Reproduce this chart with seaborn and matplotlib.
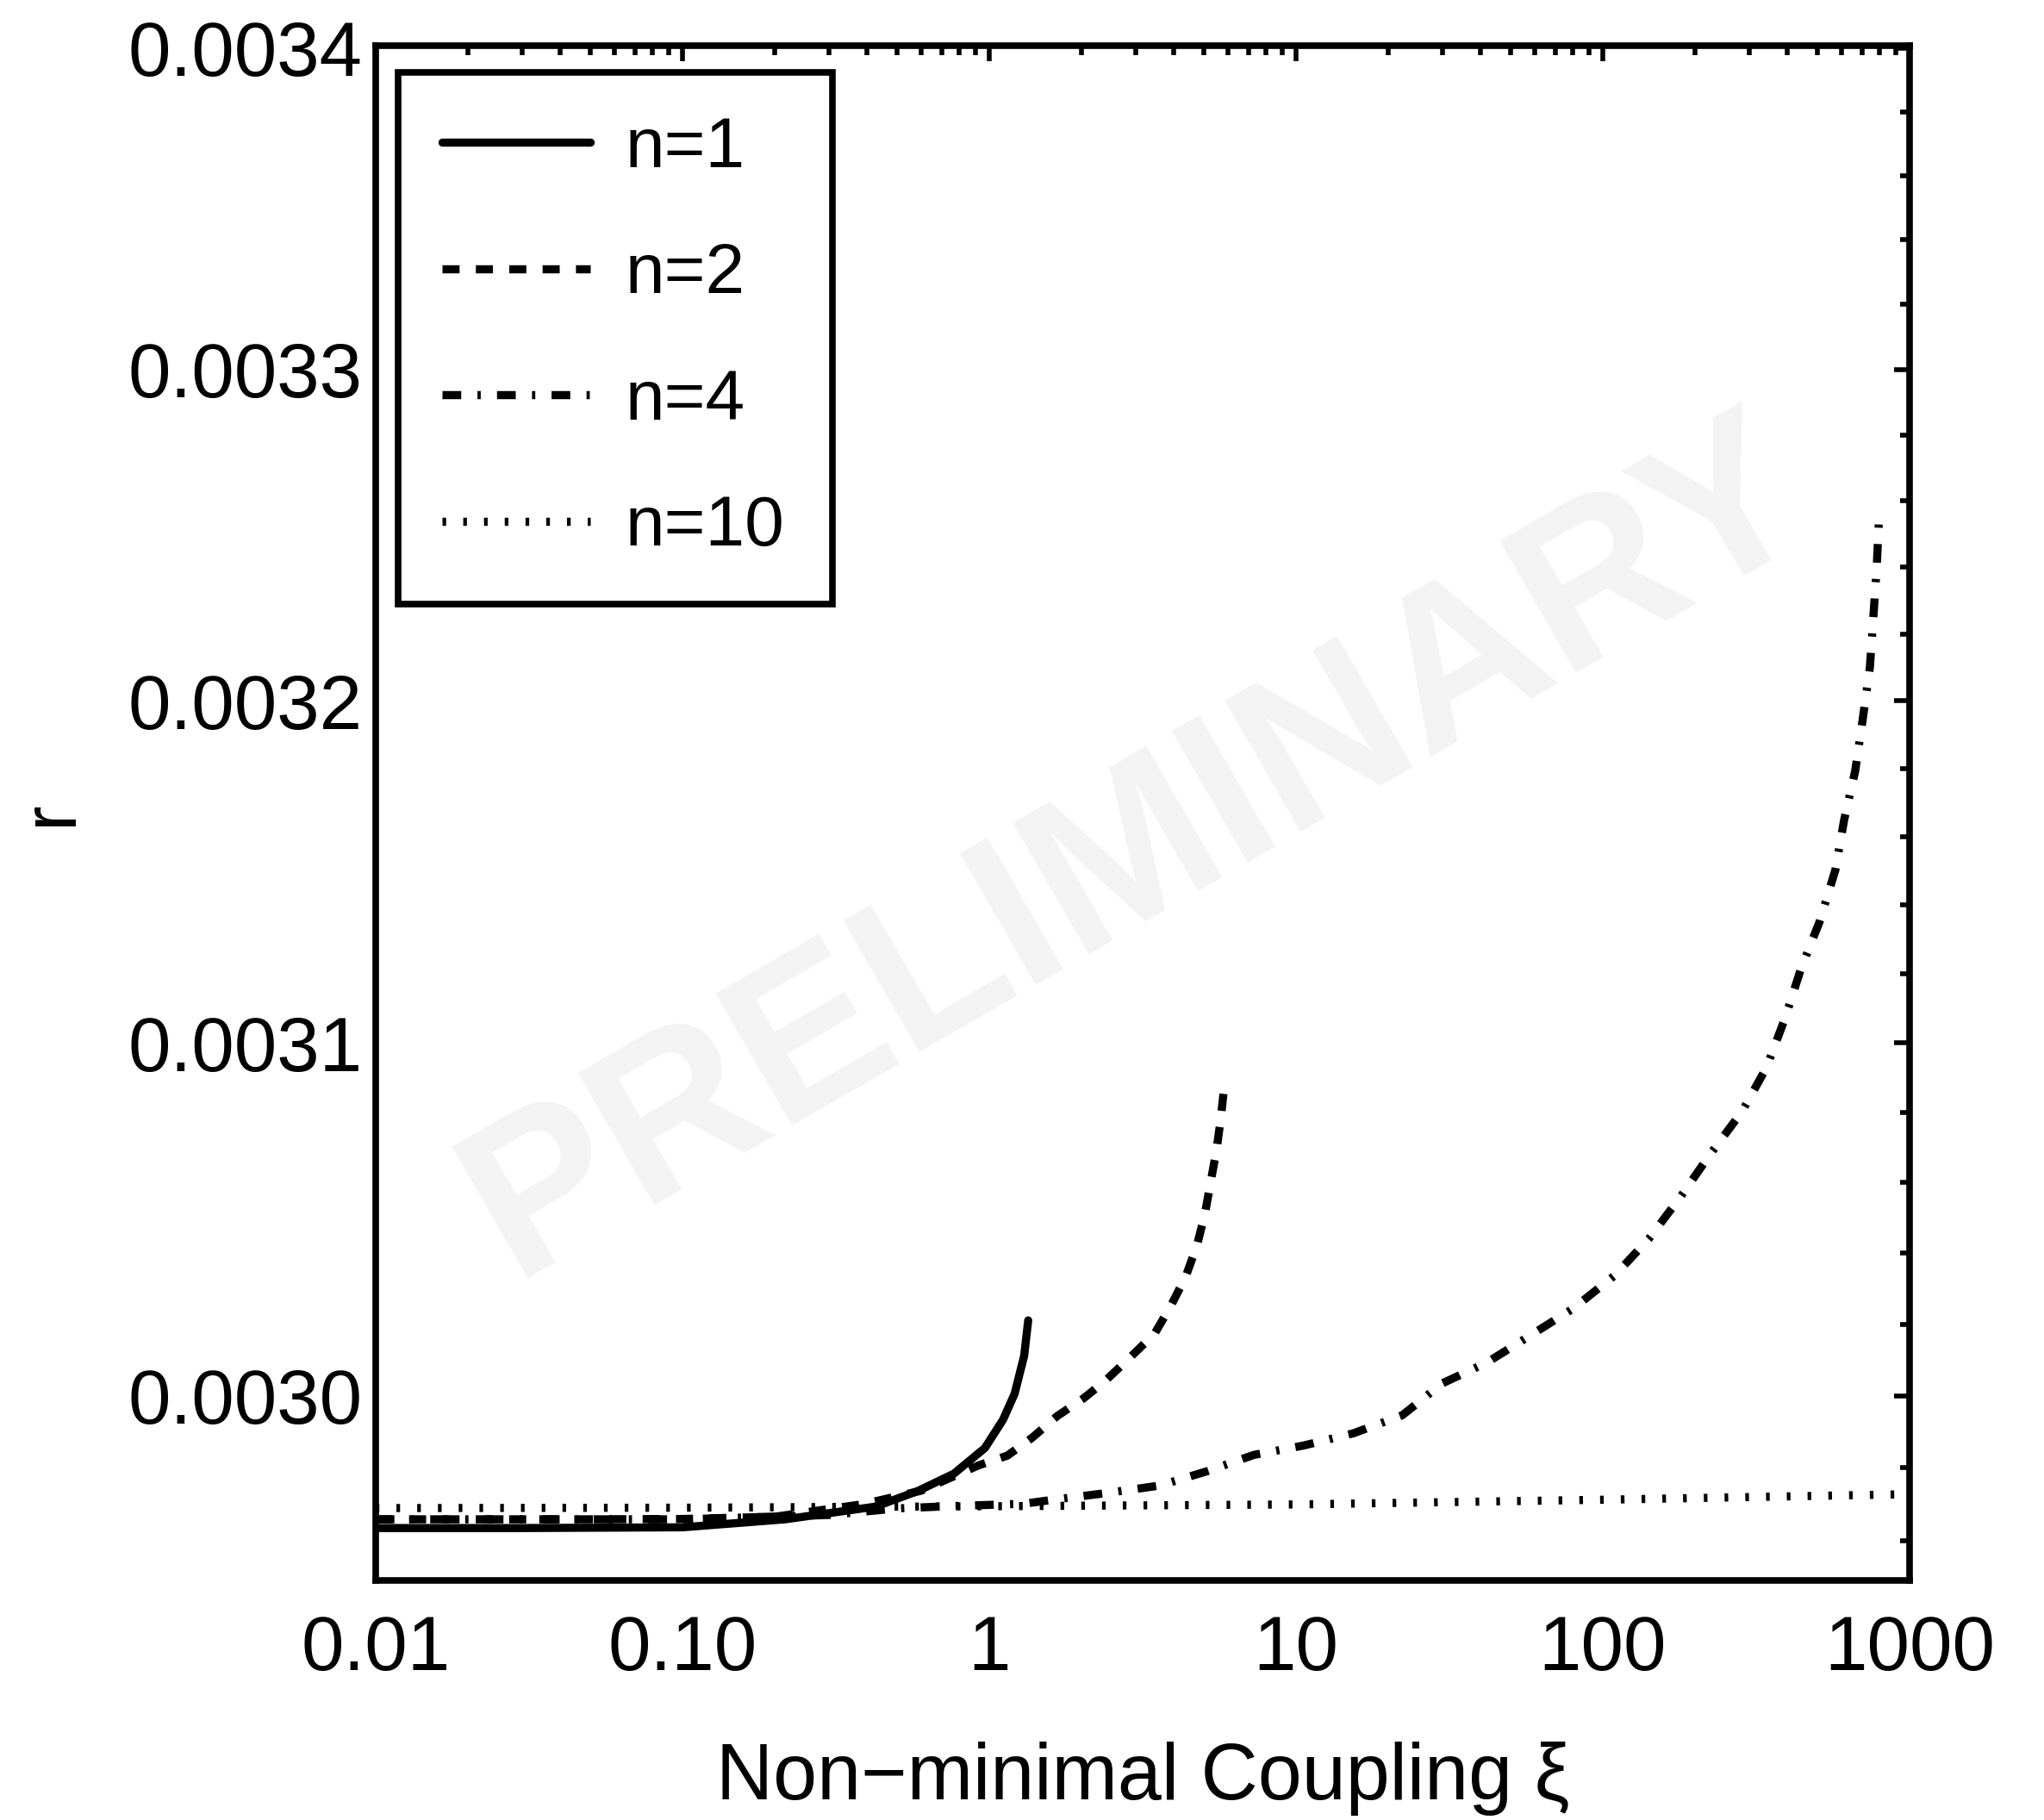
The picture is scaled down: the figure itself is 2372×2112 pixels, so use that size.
import matplotlib
matplotlib.use("Agg")
import numpy as np
import pandas as pd
import seaborn as sns
import matplotlib.pyplot as plt
from matplotlib.ticker import FixedLocator, FixedFormatter, NullFormatter, LogLocator

# --- Datos ---
n1_xi = [0.01, 0.03, 0.1, 0.216, 0.426, 0.585, 0.767, 0.968, 1.11, 1.21, 1.30, 1.34]
n1_r = [0.0029634, 0.0029634, 0.0029636, 0.0029658, 0.0029693, 0.0029736,
        0.0029784, 0.0029855, 0.0029934, 0.0030006, 0.0030112, 0.0030211]

n2_xi = [0.01, 0.05, 0.1, 0.2, 0.389, 0.6, 0.923, 1.146, 1.382, 1.667, 2.037,
         2.39, 2.908, 3.462, 3.915, 4.37, 4.75, 5.04, 5.27, 5.51, 5.69, 5.85]
n2_r = [0.0029658, 0.0029658, 0.0029659, 0.0029665, 0.0029700, 0.0029737,
        0.0029807, 0.0029834, 0.0029884, 0.0029944, 0.0029994, 0.0030042,
        0.0030111, 0.0030174, 0.0030253, 0.0030334, 0.0030421, 0.0030508,
        0.0030601, 0.0030694, 0.0030784, 0.0030884]

n4_xi = [0.01, 0.1, 0.3, 0.5, 0.733, 1.30, 1.65, 2.39, 3.59, 5.14, 7.29, 10.6,
         15.4, 22.2, 30.0, 41.9, 58.1, 80.3, 109.5, 141.4, 179.7, 224.4, 284.6,
         341.8, 393.3, 442.7, 509.4, 573.4, 611.8, 665.3, 703.9, 742.7, 762.1,
         782.2, 797.6]
n4_r = [0.0029658, 0.0029658, 0.0029670, 0.0029688, 0.0029694, 0.0029701,
        0.0029713, 0.0029730, 0.0029751, 0.0029791, 0.0029836, 0.0029862,
        0.0029896, 0.0029946, 0.0030035, 0.0030093, 0.0030169, 0.0030245,
        0.0030338, 0.0030441, 0.0030561, 0.0030682, 0.0030803, 0.0030929,
        0.0031072, 0.0031214, 0.0031351, 0.0031502, 0.0031647, 0.0031793,
        0.0031946, 0.0032100, 0.0032248, 0.0032403, 0.0032572]

n10_xi = [0.01, 0.1, 1, 10, 100, 950]
n10_r = [0.0029689, 0.0029690, 0.0029694, 0.0029699, 0.0029712, 0.0029727]

etiquetas = ["n=1", "n=2", "n=4", "n=10"]
xticks = [0.01, 0.1, 1, 10, 100, 1000]
xtick_labels = ["0.01", "0.10", "1", "10", "100", "1000"]
yticks = [0.0030, 0.0031, 0.0032, 0.0033, 0.0034]
ytick_labels = ["0.0030", "0.0031", "0.0032", "0.0033", "0.0034"]

# --- Estilo ---
sns.set_theme(style="white")
plt.rcParams['font.family'] = ['Liberation Sans', 'DejaVu Sans']

fig = plt.figure(figsize=(23.72, 21.12), dpi=100)
ax = fig.add_axes([0.1838, 0.1316, 0.7504, 0.8433])
ax.set_xscale('log')
ax.set_yscale('log')

estilos = ['-', (0, (2.1, 2.0)), (0, (2.3, 2.0, 0.4, 2.0)), (0, (0.45, 2.1))]
series = [(n1_xi, n1_r), (n2_xi, n2_r), (n4_xi, n4_r), (n10_xi, n10_r)]

for (xs, ys), ls, lab in zip(series, estilos, etiquetas):
    df = pd.DataFrame({'xi': xs, 'r': ys})
    sns.lineplot(data=df, x='xi', y='r', ax=ax, color='black', lw=6.8,
                 linestyle=ls, label=lab, estimator=None, sort=False)

# marca de agua
ax.text(0.497, 0.475, "PRELIMINARY", transform=ax.transAxes, rotation=30,
        rotation_mode='anchor', ha='center', va='center', fontsize=184,
        fontweight='bold', color='#f3f3f3', zorder=0.5)

ax.set_xlim(0.01, 1000)
ax.set_ylim(0.002949, 0.0034008)

# ejes y ticks
ax.xaxis.set_major_locator(FixedLocator(xticks))
ax.xaxis.set_major_formatter(FixedFormatter(xtick_labels))
ax.xaxis.set_minor_locator(LogLocator(base=10, subs=np.arange(2, 10), numticks=100))
ax.xaxis.set_minor_formatter(NullFormatter())

ax.yaxis.set_major_locator(FixedLocator(yticks))
ax.yaxis.set_major_formatter(FixedFormatter(ytick_labels))
ax.yaxis.set_minor_locator(FixedLocator(np.round(np.arange(0.00296, 0.00340, 0.00002), 6)))
ax.yaxis.set_minor_formatter(NullFormatter())

ax.tick_params(which='both', direction='in', top=True, right=True,
               color='black', width=4, labelcolor='black')
ax.tick_params(which='major', length=13, labelsize=64)
ax.tick_params(which='minor', length=8)
ax.tick_params(axis='x', which='major', pad=28)
ax.tick_params(axis='y', which='major', pad=11)

for s in ax.spines.values():
    s.set_visible(True)
    s.set_color('black')
    s.set_linewidth(5.5)

ax.set_xlabel("Non\u2212minimal Coupling \u03be", fontsize=66, color='black')
ax.xaxis.set_label_coords(0.5, -0.105)
ax.set_ylabel("r", fontsize=64, color='black')
ax.yaxis.set_label_coords(-0.1876, 0.5)

leg = ax.legend(loc='upper left', bbox_to_anchor=(0.0146, 0.6, 0.283, 0.3826),
                mode='expand', borderaxespad=0, fontsize=59, handlelength=2.1,
                handletextpad=0.5, labelspacing=0.86, borderpad=0.62,
                frameon=True, fancybox=False, framealpha=1, edgecolor='black')
leg.get_frame().set_linewidth(5.5)
for t in leg.get_texts():
    t.set_color('black')

fig.savefig("out.png", dpi=100)
